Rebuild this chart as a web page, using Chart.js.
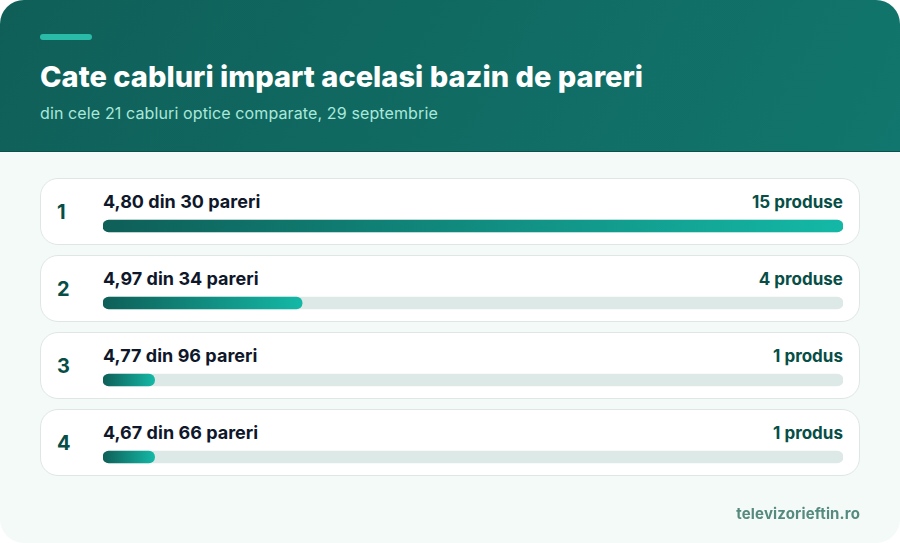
<!DOCTYPE html>
<html lang="ro">
<head>
<meta charset="utf-8">
<title>Cate cabluri impart acelasi bazin de pareri</title>
<script src="https://cdn.jsdelivr.net/npm/chart.js@4"></script>
<style>
  html, body { margin: 0; padding: 0; background: #fff; }
  body { width: 900px; height: 543px; overflow: hidden; font-family: Inter, sans-serif; }
  #card { position: relative; width: 900px; height: 543px; background: #f4faf8; border-radius: 24px; overflow: hidden; }
  #head { position: absolute; left: 0; top: 0; width: 900px; height: 151px; background: linear-gradient(120deg, #0f5f58, #11766d); border-bottom: 1px solid #0b504a; }
  #accent { position: absolute; left: 40px; top: 34px; width: 52px; height: 6px; border-radius: 3px; background: #2abba8; }
  #title { position: absolute; left: 40px; top: 58px; font-size: 29px; line-height: 38px; font-weight: 800; letter-spacing: 0.02px; color: #fff; white-space: nowrap; }
  #sub { position: absolute; left: 40px; top: 102px; font-size: 16px; line-height: 22px; font-weight: 400; letter-spacing: 0.12px; color: #a9e8da; white-space: nowrap; }
  .row { position: absolute; left: 40px; width: 818px; height: 65px; background: #fff; border: 1px solid #dfe7e5; border-radius: 18px; }
  .rank { position: absolute; left: 16px; top: 21px; font-size: 20px; line-height: 24px; font-weight: 700; color: #064e46; }
  .name { position: absolute; left: 62px; top: 12px; font-size: 18px; line-height: 22px; font-weight: 650; letter-spacing: 0.03px; color: #0f172a; white-space: nowrap; }
  .count { position: absolute; right: 16px; top: 12px; font-size: 17px; line-height: 22px; font-weight: 700; letter-spacing: 0.02px; color: #064e46; white-space: nowrap; }
  #foot { position: absolute; right: 40px; top: 504px; font-size: 15px; line-height: 20px; font-weight: 700; letter-spacing: 0.15px; color: #568a7e; white-space: nowrap; }
  canvas { position: absolute; left: 0; top: 0; }
</style>
</head>
<body>
<div id="card">
  <div id="head">
    <div id="accent"></div>
    <div id="title"></div>
    <div id="sub"></div>
  </div>
  <div id="rows"></div>
  <canvas id="barChart" width="900" height="543"></canvas>
  <div id="foot"></div>
</div>
<script>
const titleText = "Cate cabluri impart acelasi bazin de pareri";
const subText = "din cele 21 cabluri optice comparate, 29 septembrie";
const footText = "televizorieftin.ro";

const ranks = ["1", "2", "3", "4"];
const pools = ["4,80 din 30 pareri", "4,97 din 34 pareri", "4,77 din 96 pareri", "4,67 din 66 pareri"];
const countLabels = ["15 produse", "4 produse", "1 produs", "1 produs"];
const products = [15, 4, 1, 1];
const trackValues = [15, 15, 15, 15];

const COLORS = {
  track: "#dde9e6",
  barStart: "#0e5f58",
  barEnd: "#14b8a6",
};

// ── Text rows ──

function renderText() {
  document.getElementById("title").textContent = titleText;
  document.getElementById("sub").textContent = subText;
  document.getElementById("foot").textContent = footText;

  const rows = document.getElementById("rows");
  ranks.forEach((rank, i) => {
    rows.innerHTML += `
      <div class="row" style="top:${178 + i * 77}px">
        <div class="rank">${rank}</div>
        <div class="name">${pools[i]}</div>
        <div class="count">${countLabels[i]}</div>
      </div>`;
  });
}

// each bar has its own left to right gradient
function barGradient(context) {
  const { chart, dataIndex } = context;
  const x = chart.scales.x;
  const end = x ? x.getPixelForValue(products[dataIndex]) : NaN;
  // scales have no size yet on the first pass
  if (!Number.isFinite(end) || !Number.isFinite(x.left)) return COLORS.barEnd;
  const grad = chart.ctx.createLinearGradient(x.left, 0, end, 0);
  grad.addColorStop(0, COLORS.barStart);
  grad.addColorStop(1, COLORS.barEnd);
  return grad;
}

function renderChart() {
  new Chart(document.getElementById("barChart"), {
    type: "bar",
    data: {
      labels: pools,
      datasets: [
        {
          label: "Produse",
          data: products,
          base: -0.05,
          backgroundColor: barGradient,
          barThickness: 12,
          borderRadius: 6,
          borderSkipped: false,
          order: 1,
        },
        {
          label: "Total",
          data: trackValues,
          base: -0.05,
          backgroundColor: COLORS.track,
          barThickness: 12,
          borderRadius: 6,
          borderSkipped: false,
          order: 2,
        },
      ],
    },
    options: {
      indexAxis: "y",
      responsive: false,
      animation: false,
      layout: { padding: { left: 103, right: 57, top: 187.5, bottom: 47.5 } },
      plugins: { legend: { display: false }, tooltip: { enabled: false } },
      datasets: { bar: { grouped: false } },
      scales: {
        x: { display: false, min: -0.05, max: 15 },
        y: { display: false },
      },
    },
  });
}

renderText();
renderChart();
</script>
</body>
</html>
